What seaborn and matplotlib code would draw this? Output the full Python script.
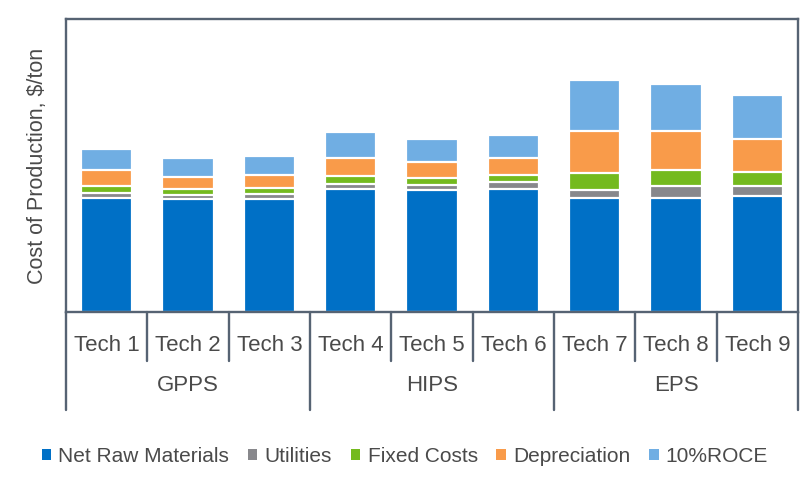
import numpy as np
import pandas as pd
import matplotlib
matplotlib.use("Agg")
import matplotlib.pyplot as plt
import seaborn as sns
from matplotlib.patches import Patch

# chart data ($/ton)
techs = ["Tech 1", "Tech 2", "Tech 3", "Tech 4", "Tech 5", "Tech 6", "Tech 7", "Tech 8", "Tech 9"]
groups = ["GPPS", "HIPS", "EPS"]
net_raw = [1143, 1127, 1127, 1233, 1220, 1233, 1143, 1143, 1160]
utilities = [50, 43, 53, 50, 53, 63, 77, 117, 100]
fixed_costs = [65, 60, 63, 73, 70, 73, 173, 157, 137]
depreciation = [165, 123, 127, 187, 160, 173, 417, 393, 336]
roce = [210, 190, 190, 253, 230, 230, 510, 473, 440]

series = ["Net Raw Materials", "Utilities", "Fixed Costs", "Depreciation", "10%ROCE"]
colors = ["#0070C6", "#88888C", "#74BA1E", "#F99B4A", "#70AEE3"]

df = pd.DataFrame({"tech": techs, "Net Raw Materials": net_raw, "Utilities": utilities,
                   "Fixed Costs": fixed_costs, "Depreciation": depreciation, "10%ROCE": roce})
cum = df[series].cumsum(axis=1)

sns.set_style("white")
plt.rcParams['font.family'] = ['Liberation Sans Narrow', 'Liberation Sans', 'DejaVu Sans']
text_col = "#4a4a4a"
line_col = "#566373"

fig = plt.figure(figsize=(8.1, 4.83), dpi=100)
ax = fig.add_axes([66 / 810, 171 / 483, 732 / 810, 293 / 483])

# stacked bars: draw cumulative totals from the top layer down
for name, col in reversed(list(zip(series, colors))):
    sns.barplot(x=df["tech"], y=cum[name], color=col, width=0.63, saturation=1,
                edgecolor="white", linewidth=1.6, ax=ax)

ax.set_xlim(-0.5, 8.5)
ax.set_ylim(0, 2930)
ax.set_xticks([])
ax.set_yticks([])
ax.set_xlabel("")
ax.set_ylabel("Cost of Production, $/ton", fontsize=15.5, color=text_col, labelpad=13)
for s in ax.spines.values():
    s.set_visible(True)
    s.set_color(line_col)
    s.set_linewidth(1.7)

# two-level category axis
trans = ax.get_xaxis_transform()
for i, t in enumerate(techs):
    ax.text(i, -0.115, t, ha="center", va="center", fontsize=16, color=text_col, transform=trans)
for g, grp in enumerate(groups):
    ax.text(3 * g + 1, -0.25, grp, ha="center", va="center", fontsize=16, color=text_col, transform=trans)
for b in range(10):
    x = b - 0.5
    y0 = -0.334 if b % 3 == 0 else -0.167
    ax.plot([x, x], [0, y0], color=line_col, lw=1.7, transform=trans, clip_on=False)

handles = [Patch(facecolor=c, edgecolor="none", label=s) for s, c in zip(series, colors)]
fig.legend(handles=handles, loc="center", bbox_to_anchor=(0.5, 0.055), ncol=5, frameon=False,
           fontsize=15, handlelength=0.45, handleheight=0.45, handletextpad=0.35,
           columnspacing=0.9, labelcolor=text_col)

fig.savefig("out.png", dpi=100)
